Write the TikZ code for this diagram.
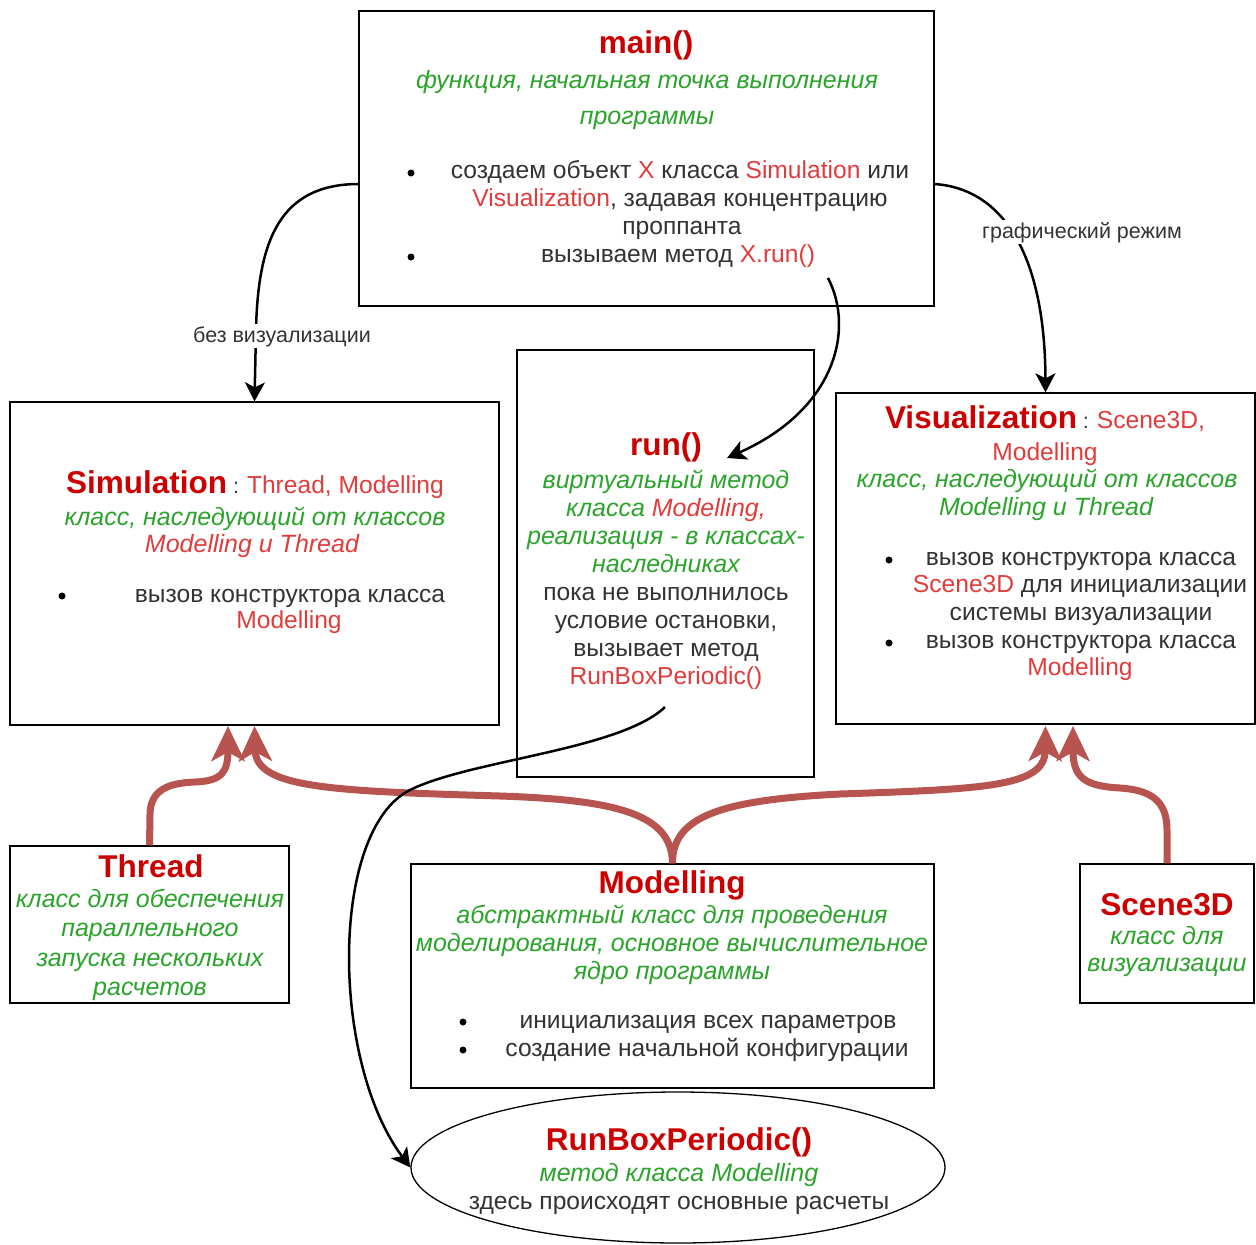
\documentclass[tikz,border=0pt]{standalone}
\usepackage{fontspec}
\setmainfont{Liberation Sans}
\usetikzlibrary{arrows.meta,shapes.geometric}
\definecolor{tred}{HTML}{CC0000}
\definecolor{sred}{HTML}{E03C3C}
\definecolor{tgreen}{HTML}{2BA42B}
\definecolor{tgray}{HTML}{333333}
\definecolor{inhred}{HTML}{B85450}
\newcommand\fTitle{\fontsize{31.5}{36}\selectfont\bfseries}
\newcommand\fBody{\fontsize{24.6}{28}\selectfont}
\newcommand\fGreen{\fontsize{25}{28}\selectfont\itshape}
\newcommand\fLab{\fontsize{21.5}{24}\selectfont}
\begin{document}
\begin{tikzpicture}[x=1pt,y=-1pt,
  box/.style={draw=black, line width=1.3pt, fill=white, inner sep=0},
  ttl/.style={inner sep=0, anchor=base, font=\fTitle, text=tred},
  bd/.style={inner sep=0, anchor=base, font=\fBody, text=tgray},
  gr/.style={inner sep=0, anchor=base, font=\fGreen, text=tgreen},
  lbl/.style={anchor=base, font=\fLab, text=tgray, fill=white, inner sep=2pt},
  bul/.style={circle, fill=black, inner sep=0, minimum size=7pt},
  conn/.style={line width=2.5pt, -{Stealth[length=19pt,width=20pt,inset=5pt]}},
  inhr/.style={draw=inhred, line width=7pt, -{Stealth[length=35pt,width=33pt,inset=9pt]}}
]
\fill[white] (0,0) rectangle (1256,1245);
\useasboundingbox (0,0) rectangle (1256,1245);

% boxes
\node[box, minimum width=575pt, minimum height=295pt] (main) at (646.5,158.5) {};
\node[box, minimum width=489pt, minimum height=323pt] (sim) at (254.5,563.5) {};
\node[box, minimum width=297pt, minimum height=427pt] (run) at (665.5,563.5) {};
\node[box, minimum width=419pt, minimum height=331pt] (vis) at (1045.5,558.5) {};
\node[box, minimum width=279pt, minimum height=157pt] (thr) at (149.5,924.5) {};
\node[box, minimum width=523pt, minimum height=224pt] (mod) at (672.5,976) {};
\node[box, minimum width=174pt, minimum height=139pt] (sc) at (1167,933.5) {};
\node[box, ellipse, minimum width=534pt, minimum height=151pt] (rbp) at (678,1167.5) {};

% connector end points
\coordinate (mL) at (359,184);
\coordinate (mR) at (934,184);
\coordinate (mIn) at (828,278);
\coordinate (runIn) at (727,458);
\coordinate (runOut) at (665,707);
\coordinate (sT) at (228,726);
\coordinate (sM) at (254.5,726);
\coordinate (vM) at (1045.5,726);
\coordinate (vS) at (1073,726);

% inheritance arrows
\draw[inhr] (thr.north) -- (150,815) .. controls (150,790) and (168,783) .. (195,782)
   .. controls (222,781) and (228,772) .. (sT);
\draw[inhr] (mod.north) .. controls (672,815) and (620,800) .. (500,796)
   .. controls (330,791) and (256,788) .. (sM);
\draw[inhr] (mod.north) .. controls (672,815) and (725,800) .. (840,794)
   .. controls (990,789) and (1045,786) .. (vM);
\draw[inhr] (sc.north) -- (1167,830) .. controls (1167,800) and (1150,790) .. (1120,788)
   .. controls (1085,786) and (1073,778) .. (vS);

% black connectors
\draw[conn] (mL) .. controls (280,184) and (258,240) .. (256,330) -- (sim.north);
\node[lbl] (lb1) at (282,342) {без визуализации};
\draw[conn] (mR) .. controls (1000,188) and (1045,250) .. (vis.north);
\node[lbl] (lb2) at (1082,238) {графический режим};
\draw[conn] (mIn) .. controls (855,330) and (835,410) .. (runIn);
\draw[conn] (runOut) .. controls (620,750) and (470,760) .. (410,790)
   .. controls (330,830) and (330,1060) .. (rbp.west);

% main()
\node[ttl] (mT) at (646,53) {main()};
\node[gr] (mG1) at (647,88) {функция, начальная точка выполнения};
\node[gr] (mG2) at (647,124) {программы};
\node[bul] (mb1) at (411,173) {};
\node[bd] (mB1) at (680,178) {создаем объект \textcolor{sred}{X} класса \textcolor{sred}{Simulation} или};
\node[bd] (mB2) at (680,206) {\textcolor{sred}{Visualization}, задавая концентрацию};
\node[bd] (mB3) at (682,234) {проппанта};
\node[bul] (mb2) at (411,257) {};
\node[bd] (mB4) at (678,262) {вызываем метод \textcolor{sred}{X.run()}};

% Simulation
\node[inner sep=0, anchor=base] (sT1) at (255,493)
  {\textcolor{tred}{\fTitle Simulation}\textcolor{tgray}{\fLab{} : }\textcolor{sred}{\fBody Thread, Modelling}};
\node[gr] (sG1) at (255,525) {класс, наследующий от классов};
\node[gr, text=sred] (sG2) at (252,552) {Modelling и Thread};
\node[bul] (sb1) at (62,596) {};
\node[bd] (sB1) at (290,602) {вызов конструктора класса};
\node[bd, text=sred] (sB2) at (289,628) {Modelling};

% run()
\node[ttl] (rT) at (666,455) {run()};
\node[gr] (rG1) at (666,488) {виртуальный метод};
\node[gr] (rG2) at (666,516) {класса \textcolor{sred}{Modelling,}};
\node[gr] (rG3) at (666,544) {реализация - в классах-};
\node[gr] (rG4) at (666,572) {наследниках};
\node[bd] (rB1) at (666,600) {пока не выполнилось};
\node[bd] (rB2) at (666,628) {условие остановки,};
\node[bd] (rB3) at (666,656) {вызывает метод};
\node[bd, text=sred] (rB4) at (666,684) {RunBoxPeriodic()};

% Visualization
\node[inner sep=0, anchor=base] (vT1) at (1045,428)
  {\textcolor{tred}{\fTitle Visualization}\textcolor{tgray}{\fLab{} : }\textcolor{sred}{\fBody Scene3D,}};
\node[bd, text=sred] (vT2) at (1045,460) {Modelling};
\node[gr] (vG1) at (1047,487) {класс, наследующий от классов};
\node[gr] (vG2) at (1046,515) {Modelling и Thread};
\node[bul] (vb1) at (889,560) {};
\node[bd] (vB1) at (1081,565) {вызов конструктора класса};
\node[bd] (vB2) at (1080,592) {\textcolor{sred}{Scene3D} для инициализации};
\node[bd] (vB3) at (1081,620) {системы визуализации};
\node[bul] (vb2) at (889,643) {};
\node[bd] (vB4) at (1081,648) {вызов конструктора класса};
\node[bd, text=sred] (vB5) at (1080,675) {Modelling};

% Thread
\node[ttl] (tT) at (151,877) {Thread};
\node[gr] (tG1) at (150,907) {класс для обеспечения};
\node[gr] (tG2) at (150,936) {параллельного};
\node[gr] (tG3) at (150,966) {запуска нескольких};
\node[gr] (tG4) at (150,995) {расчетов};

% Modelling
\node[ttl] (oT) at (672,893) {Modelling};
\node[gr] (oG1) at (672,923) {абстрактный класс для проведения};
\node[gr] (oG2) at (672,951) {моделирования, основное вычислительное};
\node[gr] (oG3) at (672,979) {ядро программы};
\node[bul] (ob1) at (463,1022) {};
\node[bd] (oB1) at (708,1028) {инициализация всех параметров};
\node[bul] (ob2) at (463,1050) {};
\node[bd] (oB2) at (707,1056) {создание начальной конфигурации};

% Scene3D
\node[ttl] (cT) at (1167,915) {Scene3D};
\node[gr] (cG1) at (1167,944) {класс для};
\node[gr] (cG2) at (1167,971) {визуализации};

% RunBoxPeriodic
\node[ttl] (eT) at (679,1150) {RunBoxPeriodic()};
\node[gr] (eG) at (679,1181) {метод класса Modelling};
\node[bd] (eB) at (679,1209) {здесь происходят основные расчеты};
\end{tikzpicture}
\end{document}
